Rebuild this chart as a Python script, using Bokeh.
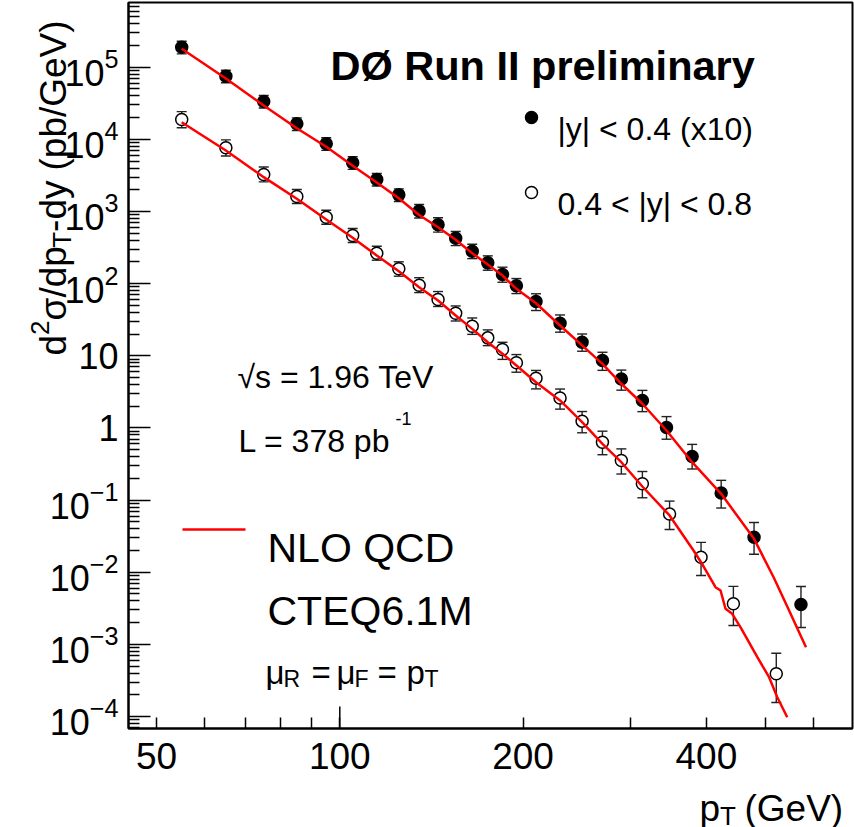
from math import log10, pi
from bokeh.plotting import figure
from bokeh.models import (FixedTicker, Whisker, TeeHead, ColumnDataSource, Label,
                          Range1d, LogTickFormatter)
from bokeh.core.properties import value
from bokeh.embed import file_html
from bokeh.resources import INLINE

# ---------------- data ----------------
# |y| < 0.4  (scaled x10)
pt_central = [55, 65, 75, 85, 95, 105, 115, 125, 135, 145, 155, 165, 175, 185, 195,
              210, 230, 250, 270, 290, 314, 344, 379, 423, 479, 572]
xsec_central = [1.89e5, 7.5e4, 3.35e4, 1.64e4, 8.68e3, 4.73e3, 2.78e3, 1.70e3, 1.016e3,
                654, 426, 281, 194, 134, 93.3, 56.5, 28.3, 15.4, 8.6, 4.76, 2.40, 1.01,
                0.402, 0.125, 0.0305, 3.56e-3]
err_up_central = [0.21, 0.21, 0.21, 0.21, 0.21, 0.21, 0.21, 0.21, 0.23, 0.25, 0.24, 0.25,
                  0.25, 0.26, 0.26, 0.28, 0.30, 0.30, 0.30, 0.33, 0.38, 0.42, 0.47, 0.50,
                  0.60, 0.78]
err_dn_central = [0.19, 0.19, 0.19, 0.19, 0.19, 0.19, 0.19, 0.19, 0.20, 0.21, 0.21, 0.21,
                  0.21, 0.22, 0.22, 0.25, 0.25, 0.25, 0.27, 0.30, 0.30, 0.31, 0.33, 0.38,
                  0.42, 0.52]

# 0.4 < |y| < 0.8
pt_forward = [55, 65, 75, 85, 95, 105, 115, 125, 135, 145, 155, 165, 175, 185, 195,
              210, 230, 250, 270, 290, 314, 348, 392, 443, 521]
xsec_forward = [1.88e4, 7.63e3, 3.26e3, 1.61e3, 833, 464, 264, 160.5, 95.1, 60.2, 38.9,
                25.7, 17.7, 12.2, 7.99, 4.89, 2.6, 1.24, 0.634, 0.353, 0.168, 0.0640,
                0.0161, 3.65e-3, 3.9e-4]
err_up_forward = [0.29, 0.29, 0.27, 0.25, 0.25, 0.25, 0.25, 0.25, 0.27, 0.29, 0.26, 0.30,
                  0.29, 0.26, 0.30, 0.28, 0.33, 0.36, 0.42, 0.45, 0.48, 0.51, 0.61, 0.74,
                  0.93]
err_dn_forward = [0.23, 0.23, 0.21, 0.20, 0.20, 0.20, 0.20, 0.21, 0.21, 0.20, 0.22, 0.23,
                  0.22, 0.27, 0.26, 0.29, 0.30, 0.31, 0.33, 0.35, 0.36, 0.39, 0.44, 0.50,
                  0.60]

# NLO QCD (CTEQ6.1M) curves
nlo_pt_central = [55, 65, 75, 85, 95, 105, 115, 125, 135, 145, 155, 165, 175, 185, 195,
                  210, 230, 250, 270, 290, 314, 344, 379, 423, 479, 516, 544, 583]
nlo_central = [1.80e5, 6.97e4, 2.945e4, 1.422e4, 7.88e3, 4.30e3, 2.52e3, 1.523e3, 894,
               605, 405, 264, 184, 129.6, 84.8, 53.5, 26.3, 13.9, 7.73, 4.09, 2.16, 0.920,
               0.3345, 0.122, 0.0290, 8.44e-3, 3.24e-3, 9.12e-4]
nlo_pt_forward = [55, 65, 75, 85, 95, 105, 115, 125, 135, 145, 155, 165, 175, 185, 195,
                  210, 230, 250, 270, 290, 314, 348, 381, 392, 414, 422, 430, 441, 455,
                  485, 507, 523, 543]
nlo_forward = [1.728e4, 7.00e3, 2.99e3, 1.499e3, 774, 431.7, 245.3, 148.7, 89.2, 58.3,
               36.1, 23.6, 15.4, 10.65, 7.33, 4.30, 2.40, 1.20, 0.602, 0.3345, 0.154,
               0.0611, 0.01998, 0.01375, 6.19e-3, 5.57e-3, 3.11e-3, 2.65e-3, 1.727e-3,
               6.63e-4, 3.50e-4, 1.85e-4, 9.76e-5]

# axis ticks
x_tick_values = [50, 100, 200, 400]
x_minor_values = [60, 70, 80, 90, 300, 500, 600]
x_decade_ticks = [100]
y_tick_values = [1e-4, 1e-3, 1e-2, 1e-1, 1, 10, 100, 1e3, 1e4, 1e5]
y_label_overrides = {1: "1", 10: "10"}

# ---------------- page-pixel helpers (layout only) ----------------
FONT = "Liberation Sans"


def dx(px):
    return 10 ** (log10(50) + (px - 156) / 608.9)


def dy(py):
    return 10 ** (5 - (py - 66.7) / 72.14)


p = figure(width=854, height=827, x_axis_type="log", y_axis_type="log",
           x_range=Range1d(dx(128), dx(852)), y_range=Range1d(dy(728), dy(2)),
           output_backend="svg", toolbar_location=None,
           min_border_left=128, min_border_right=2, min_border_top=2,
           min_border_bottom=99)
p.background_fill_color = "white"
p.border_fill_color = "white"
p.outline_line_color = "black"
p.outline_line_width = 2
p.xgrid.visible = False
p.ygrid.visible = False

y_minor = [k * 10.0 ** n for n in range(-5, 6) for k in range(2, 10)]

for ax in (p.xaxis[0], p.yaxis[0]):
    ax.axis_line_color = "black"
    ax.axis_line_width = 2
    ax.major_tick_line_color = "black"
    ax.minor_tick_line_color = "black"
    ax.major_tick_line_width = 1.5
    ax.minor_tick_line_width = 1.5
    ax.major_tick_out = 0
    ax.minor_tick_out = 0
    ax.major_label_text_font = FONT
    ax.major_label_text_color = "black"

p.xaxis.major_label_text_font_size = "37px"
p.yaxis.major_label_text_font_size = "36px"

p.xaxis.ticker = FixedTicker(ticks=x_tick_values, minor_ticks=x_minor_values)
p.xaxis.major_tick_in = 11
p.xaxis.minor_tick_in = 11
p.xaxis.major_label_standoff = 14
p.xaxis.major_label_overrides = {v: str(v) for v in x_tick_values}

p.yaxis.ticker = FixedTicker(ticks=y_tick_values, minor_ticks=y_minor)
p.yaxis.major_tick_in = 22
p.yaxis.minor_tick_in = 11
p.yaxis.major_label_standoff = 10
p.yaxis.formatter = LogTickFormatter()
p.yaxis.major_label_overrides = y_label_overrides

# long decade tick on the x axis
yb = dy(728)
p.segment(x0=x_decade_ticks, x1=x_decade_ticks, y0=[yb] * len(x_decade_ticks),
          y1=[yb * 10 ** (22 / 72.14)] * len(x_decade_ticks), line_color="black",
          line_width=1.5)


# ---------------- data points ----------------
def add_series(pts, vals, eu, ed, fill):
    src = ColumnDataSource(dict(
        x=pts, y=vals,
        upper=[v * (1 + u) for v, u in zip(vals, eu)],
        lower=[v * (1 - d) for v, d in zip(vals, ed)]))
    w = Whisker(base="x", upper="upper", lower="lower", source=src,
                line_color="#222222", line_width=1.4,
                upper_head=TeeHead(size=10, line_color="#222222", line_width=1.4),
                lower_head=TeeHead(size=10, line_color="#222222", line_width=1.4))
    p.add_layout(w)
    p.scatter("x", "y", source=src, marker="circle", size=12,
              fill_color=fill, line_color="black", line_width=1.5)


add_series(pt_central, xsec_central, err_up_central, err_dn_central, "black")
add_series(pt_forward, xsec_forward, err_up_forward, err_dn_forward, "white")

p.line(nlo_pt_central, nlo_central, line_color="red", line_width=2.5)
p.line(nlo_pt_forward, nlo_forward, line_color="red", line_width=2.5)


# ---------------- texts ----------------
def lab(px, py, text, size, bold=False, angle=0.0):
    p.add_layout(Label(x=dx(px), y=dy(py), text=text, text_font=FONT,
                       text_font_size=f"{size}px",
                       text_font_style="bold" if bold else "normal",
                       angle=angle, text_baseline="alphabetic", text_align="left",
                       text_color="black"))


def olab(px, py, text, size, angle=0.0):
    # text outside the frame: text glyph on the (unclipped) overlay level
    r = p.text(x=[dx(px)], y=[dy(py)], text=[text], text_font=value(FONT),
               text_font_size=value(f"{size}px"), angle=angle,
               text_baseline="alphabetic", text_align="left", text_color="black")
    r.level = "overlay"


lab(330, 65, "DØ Run II preliminary", 41.5, bold=True)

# legend for the data
p.scatter([dx(531)], [dy(117)], marker="circle", size=12, fill_color="black",
          line_color="black", line_width=1.5)
p.scatter([dx(531)], [dy(192)], marker="circle", size=12, fill_color="white",
          line_color="black", line_width=1.5)
lab(557, 128, "|y| < 0.4 (x10)", 32)
lab(557, 203, "0.4 < |y| < 0.8", 32)

lab(237, 376, "√s = 1.96 TeV", 32)
lab(238, 440, "L = 378 pb", 32)
lab(395, 418, "-1", 18)

# NLO legend
p.line([dx(182), dx(245)], [dy(529), dy(529)], line_color="red", line_width=2.5)
lab(267, 547, "NLO QCD", 41)
lab(267, 610, "CTEQ6.1M", 41)
lab(265, 672, "μ", 33)
lab(283, 678, "R", 23)
lab(311, 672, "=", 33)
lab(336, 672, "μ", 33)
lab(354, 678, "F", 23)
lab(377, 672, "=", 33)
lab(406, 672, "p", 33)
lab(424, 678, "T", 23)

# x-axis title
olab(699, 808, "p", 37)
olab(719.6, 815, "T", 26)
olab(744, 808, "(GeV)", 37)

# y-axis title (rotated)
A = pi / 2
olab(53, 355, "d", 37, angle=A)
olab(39, 334.4, "2", 26, angle=A)
olab(53, 319.9, "σ/dp", 37, angle=A)
olab(61, 247.3, "T", 26, angle=A)
olab(53, 231.4, "-dy", 37, angle=A)
olab(53, 170, "(pb/GeV)", 37, angle=A)

open("out.html", "w").write(file_html(p, INLINE))
